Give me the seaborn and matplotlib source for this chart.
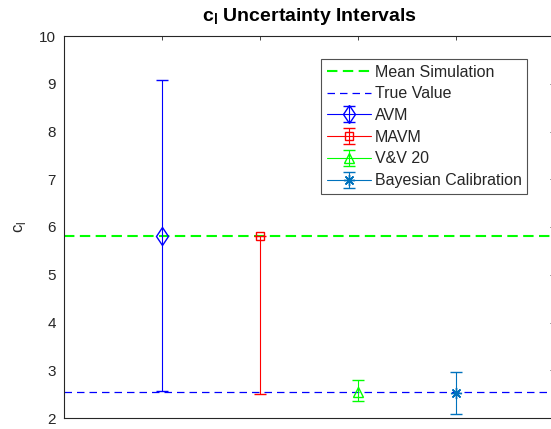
import numpy as np
import matplotlib
matplotlib.use("Agg")
import matplotlib.pyplot as plt
import seaborn as sns

# Interval data (lift coefficient)
methods = ["AVM", "MAVM", "V&V 20", "Bayesian Calibration"]
positions = [1, 2, 3, 4]
centers = [5.82, 5.82, 2.54, 2.53]
lower = [2.56, 2.51, 2.36, 2.08]
upper = [9.08, 5.82, 2.80, 2.96]
mean_sim = 5.82
true_value = 2.54

colors = ["#0000ff", "#ff0000", "#00ff00", "#0072bd"]
markers = ["d", "s", "^", (8, 2, 0)]
msizes = [9.5, 6, 7, 8]

sns.set_theme(style="white")
plt.rcParams["font.family"] = ["Liberation Sans", "DejaVu Sans"]
plt.rcParams["mathtext.fontset"] = "custom"
plt.rcParams["mathtext.rm"] = "Liberation Sans"
plt.rcParams["mathtext.bf"] = "Liberation Sans:bold"

fig = plt.figure(figsize=(5.51, 4.29), dpi=100)
ax = fig.add_axes([64 / 551, 11 / 429, 490 / 551, 382 / 429])

xs = [0, 5]
sns.lineplot(x=xs, y=[mean_sim, mean_sim], ax=ax, color="#00ff00",
             linestyle=(0, (5, 2.6)), linewidth=1.5, label="Mean Simulation")
sns.lineplot(x=xs, y=[true_value, true_value], ax=ax, color="#0000ff",
             linestyle=(0, (6, 4)), linewidth=0.9, label="True Value")

for m, x, c, lo, hi, col, mk, ms in zip(methods, positions, centers, lower,
                                        upper, colors, markers, msizes):
    yerr = np.array([[c - lo], [hi - c]])
    ax.errorbar([x], [c], yerr=yerr, fmt="-", marker=mk, markersize=ms,
                color=col, markerfacecolor="none", markeredgecolor=col,
                markeredgewidth=1.0, elinewidth=0.8, linewidth=0.8,
                capsize=4, capthick=1.0, label=m)

ax.set_xlim(0, 5)
ax.set_ylim(2, 10)
ax.set_xticks(positions)
ax.set_xticklabels([])
ax.set_yticks(range(2, 11))
ax.tick_params(axis="both", direction="in", length=3, width=0.6,
               colors="#262626", labelsize=11, top=True, right=True,
               labelcolor="#262626", pad=6)
for s in ax.spines.values():
    s.set_color("#262626")
    s.set_linewidth(0.8)

ax.set_ylabel(r"c$_\mathregular{l}$", fontsize=12, color="#262626", labelpad=8)
ax.set_title(r"c$_\mathbf{l}$ Uncertainty Intervals", fontsize=14,
             fontweight="bold", color="black", pad=10.5)

leg = ax.legend(loc="upper left", bbox_to_anchor=(257 / 490, 1 - 23 / 382),
                fontsize=11.5, frameon=True, fancybox=False, edgecolor="#262626",
                handlelength=2.8, handletextpad=0.2, labelspacing=0.42,
                borderpad=0.35, borderaxespad=0)
leg.get_frame().set_linewidth(0.8)

fig.savefig("out.png", dpi=100)
